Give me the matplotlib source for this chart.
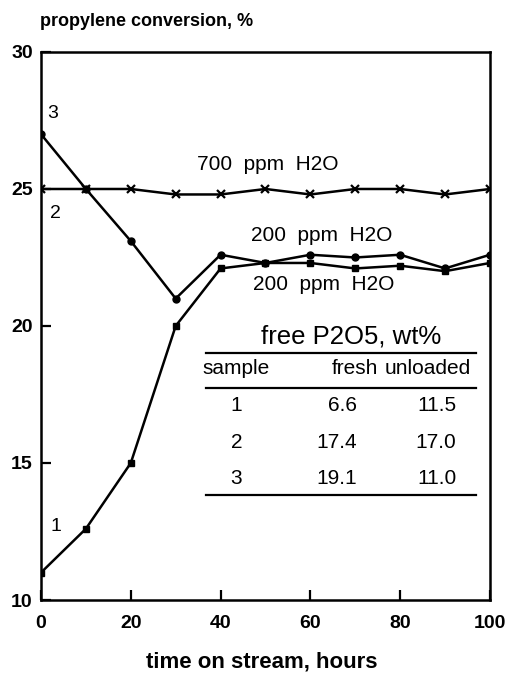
import matplotlib.pyplot as plt

plt.rcParams['font.family'] = ['Liberation Sans', 'DejaVu Sans']

hours = [0, 10, 20, 30, 40, 50, 60, 70, 80, 90, 100]
sample1 = [11.0, 12.6, 15.0, 20.0, 22.1, 22.3, 22.3, 22.1, 22.2, 22.0, 22.3]
sample2 = [25.0, 25.0, 25.0, 24.8, 24.8, 25.0, 24.8, 25.0, 25.0, 24.8, 25.0]
sample3 = [27.0, 25.0, 23.1, 21.0, 22.6, 22.3, 22.6, 22.5, 22.6, 22.1, 22.6]

table_samples = ["1", "2", "3"]
table_fresh = ["6.6", "17.4", "19.1"]
table_unloaded = ["11.5", "17.0", "11.0"]

fig = plt.figure(figsize=(5.15, 6.75), dpi=100)
ax = fig.add_axes([0.0796, 0.1111, 0.8718, 0.8119])

ax.plot(hours, sample1, color="black", lw=1.8, marker="s", ms=5)
ax.plot(hours, sample2, color="black", lw=1.8, marker="x", ms=6, mew=1.6)
ax.plot(hours, sample3, color="black", lw=1.8, marker="o", ms=5)

ax.set_xlim(0, 100)
ax.set_ylim(10, 30)
ax.set_xticks([0, 20, 40, 60, 80, 100])
ax.set_yticks([10, 15, 20, 25, 30])
ax.tick_params(direction="in", length=7, width=1.6, labelsize=14)
ax.tick_params(axis="x", pad=11)
ax.tick_params(axis="y", pad=6)
for lab in ax.get_xticklabels() + ax.get_yticklabels():
    lab.set_fontweight("bold")
for sp in ax.spines.values():
    sp.set_linewidth(1.8)

fig.text(40 / 515, 1 - 21 / 675, "propylene conversion, %", fontsize=13, fontweight="bold", va="center")
fig.text(262 / 515, 1 - 662 / 675, "time on stream, hours", fontsize=16, fontweight="bold", ha="center", va="center")

# curve labels
ax.text(2.7, 27.75, "3", fontsize=14, ha="center", va="center")
ax.text(3.3, 24.1, "2", fontsize=14, ha="center", va="center")
ax.text(3.3, 12.7, "1", fontsize=14, ha="center", va="center")
ax.text(50.4, 25.88, "700  ppm  H2O", fontsize=15, ha="center", va="center")
ax.text(62.6, 23.32, "200  ppm  H2O", fontsize=15, ha="center", va="center")
ax.text(63, 21.5, "200  ppm  H2O", fontsize=15, ha="center", va="center")

# inset table
ax.text(69, 19.6, "free P2O5, wt%", fontsize=18.5, ha="center", va="center")
ax.plot([36.8, 96.8], [19.0, 19.0], color="black", lw=1.6)
ax.text(43.5, 18.45, "sample", fontsize=15, ha="center", va="center")
ax.text(70, 18.45, "fresh", fontsize=15, ha="center", va="center")
ax.text(86.2, 18.45, "unloaded", fontsize=15, ha="center", va="center")
ax.plot([36.8, 96.8], [17.75, 17.75], color="black", lw=1.6)
row_y = [17.1, 15.75, 14.45]
for s, f, u, y in zip(table_samples, table_fresh, table_unloaded, row_y):
    ax.text(43.5, y, s, fontsize=15, ha="center", va="center")
    ax.text(70.3, y, f, fontsize=15, ha="right", va="center")
    ax.text(92.5, y, u, fontsize=15, ha="right", va="center")
ax.plot([36.8, 96.8], [13.85, 13.85], color="black", lw=1.6)

fig.savefig("out.png", dpi=100)
